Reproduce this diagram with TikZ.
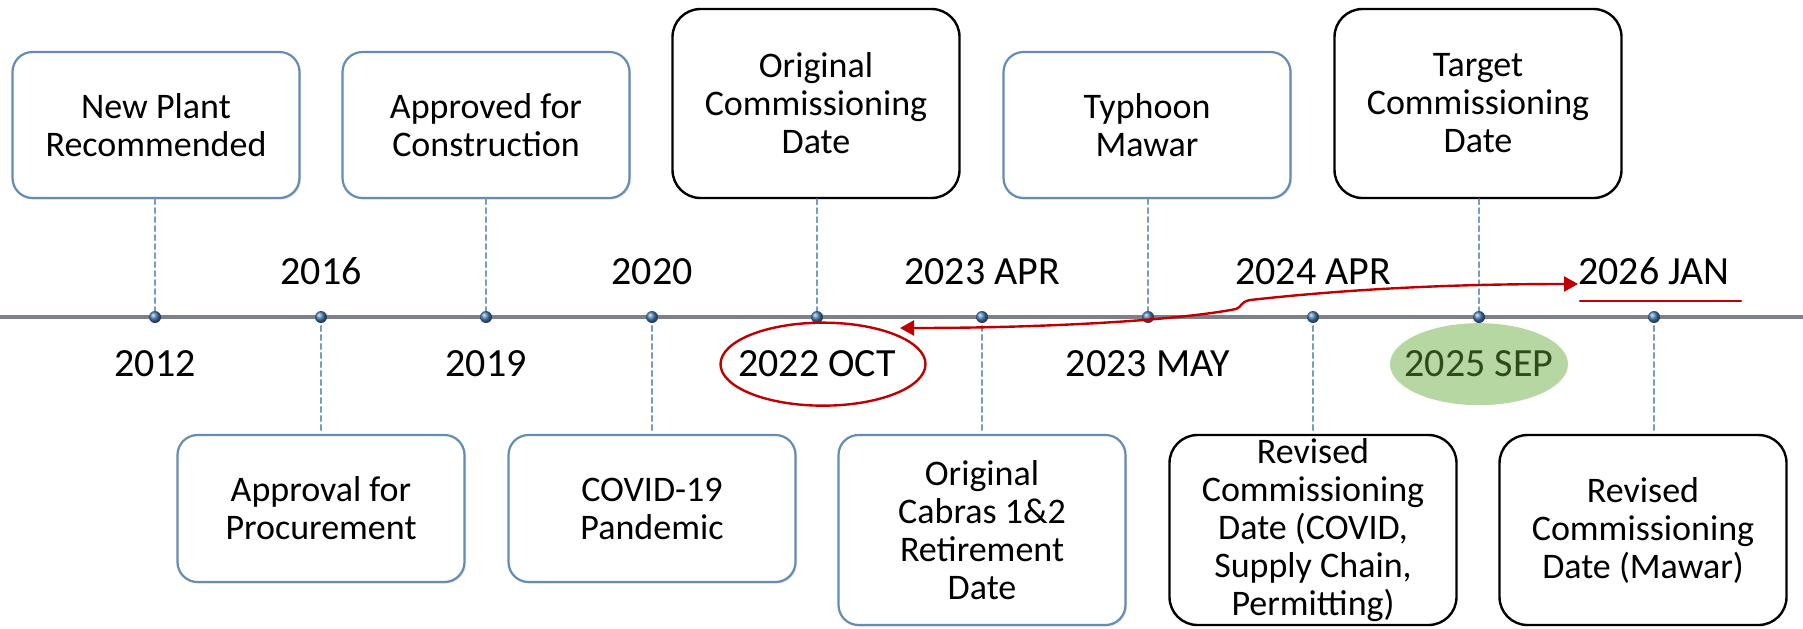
\documentclass[tikz,border=0pt]{standalone}
\usepackage{fontspec}
\setmainfont{Carlito}
\usetikzlibrary{arrows.meta,shadows,backgrounds}
\definecolor{tlgray}{RGB}{125,129,135}
\definecolor{dotblue}{RGB}{70,125,180}
\definecolor{dashblue}{RGB}{120,155,195}
\definecolor{boxblue}{RGB}{100,140,180}
\definecolor{arrred}{RGB}{192,0,0}
\definecolor{sepgreen}{RGB}{182,214,162}
\definecolor{septext}{RGB}{45,75,25}
\begin{document}
\begin{tikzpicture}[x=0.5pt,y=-0.5pt,line join=round,line cap=round]
			\tikzset{every node/.style={font=\fontsize{18}{19}\selectfont,align=center,inner sep=0pt},
				bluebox/.style={draw=boxblue,line width=1.1pt,fill=white,rounded corners=10pt,minimum width=143.5pt,
					drop shadow={opacity=0.18,shadow xshift=0.8pt,shadow yshift=-0.8pt}},
				blackbox/.style={draw=black,line width=1.2pt,fill=white,rounded corners=14pt,minimum width=143.5pt},
				datelbl/.style={font=\fontsize{20}{24}\selectfont,anchor=base},
				link/.style={dashblue,line width=1.2pt,dash pattern=on 2.5pt off 2pt},
				tickdot/.style={circle,minimum size=6pt,shading=ball,ball color=dotblue}}
			\useasboundingbox (0,0) rectangle (1803,628);
			\foreach \n/\x in {1/155,2/321,3/486,4/652,5/817,6/982,7/1148,8/1313,9/1479,10/1654}
			\coordinate (t\n) at (\x,317);
			\coordinate (tlstart) at (0,317);
			\coordinate (tlend) at (1803,317);
			% boxes above and below the line
			\node[bluebox,minimum height=73pt] (plant) at (156,125) {New Plant\\Recommended};
			\node[bluebox,minimum height=73pt] (constr) at (486,125) {Approved for\\Construction};
			\node[blackbox,minimum height=94.5pt] (origcomm) at (816,103.5) {Original\\Commissioning\\Date};
			\node[bluebox,minimum height=73pt] (typhoon) at (1147,125) {Typhoon\\Mawar};
			\node[blackbox,minimum height=94.5pt] (target) at (1478,103.5) {Target\\Commissioning\\Date};
			\node[bluebox,minimum height=73.5pt] (procure) at (321,508.5) {Approval for\\Procurement};
			\node[bluebox,minimum height=73.5pt] (covid) at (652,508.5) {COVID-19\\Pandemic};
			\node[bluebox,minimum height=95pt] (cabras) at (982,530) {Original\\Cabras 1\&2\\Retirement\\Date};
			\node[blackbox,minimum height=95pt] (revcovid) at (1313,530) {Revised\\Commissioning\\Date (COVID,\\Supply Chain,\\Permitting)};
			\node[blackbox,minimum height=95pt] (revmawar) at (1643,530) {Revised\\Commissioning\\Date (Mawar)};
			\foreach \b/\t in {plant/1,constr/3,origcomm/5,typhoon/7,target/9}
			\draw[link] (\b.south -| t\t) -- (t\t);
			\foreach \b/\t in {procure/2,covid/4,cabras/6,revcovid/8,revmawar/10}
			\draw[link] (t\t) -- (t\t |- \b.north);
			\draw[tlgray,line width=1.8pt] (tlstart) -- (tlend);
			\foreach \n in {1,...,10}
			\node[tickdot] (d\n) at (t\n) {};
			% dates
			\foreach \n/\txt/\nm in {2/2016/y16,4/2020/y20,6/2023 APR/apr23,8/2024 APR/apr24,10/2026 JAN/jan26}
			\path (t\n) ++(0,-33) node[datelbl] (\nm) {\txt};
			\foreach \n/\txt/\nm in {1/2012/y12,3/2019/y19,5/2022 OCT/oct22,7/2023 MAY/may23}
			\path (t\n) ++(0,59) node[datelbl] (\nm) {\txt};
			\path (t9) ++(0,59) node[datelbl,text=septext] (sep25) {2025 SEP};
			\begin{scope}[on background layer]
				\fill[sepgreen] ([yshift=-0.5pt]sep25.center) ellipse [x radius=44.5pt,y radius=20.5pt];
			\end{scope}
			\draw[arrred,line width=1.2pt] ([xshift=3pt,yshift=-0.5pt]oct22.center) ellipse [x radius=51.25pt,y radius=20.75pt];
			\draw[arrred,line width=1.2pt] ([xshift=1pt,yshift=-8.5pt]jan26.base west) -- ([xshift=5.5pt,yshift=-8.5pt]jan26.base east);
			% slip arrow
			\coordinate (slipL) at (900,328);
			\coordinate (kinkA) at (1236,309);
			\coordinate (kinkB) at (1250,300);
			\draw[arrred,line width=1.2pt,{Triangle[length=7pt,width=7.5pt]}-{Triangle[length=7pt,width=7.5pt]}]
			(slipL) .. controls (1050,328) and (1180,320) .. (kinkA)
			.. controls (1242,307) and (1240,302) .. (kinkB)
			.. controls (1350,289) and (1450,284) .. (jan26.base west);
		\end{tikzpicture}
\end{document}
